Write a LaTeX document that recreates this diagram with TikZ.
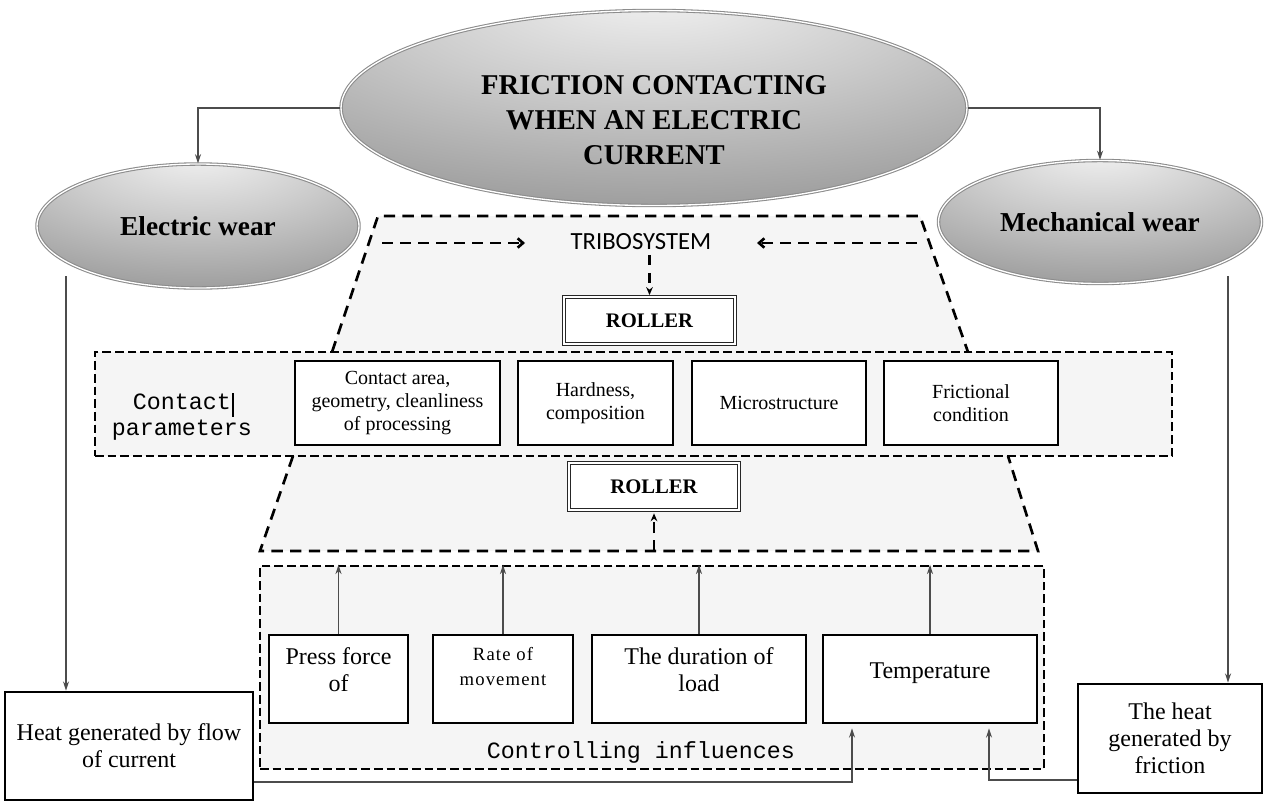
\documentclass[tikz,border=0pt]{standalone}
\usepackage{fontspec}
\setmainfont{Liberation Serif}
\setmonofont{Liberation Mono}
\newfontfamily\tribofont{Carlito}
\usetikzlibrary{arrows.meta,shapes.geometric}
\newcommand\pxu{0.75pt}
\newcommand\setfs[2]{\fontsize{#1}{#2}\selectfont}
\pgfdeclareradialshading{ellshade}{\pgfpoint{0bp}{30bp}}{color(0bp)=(black!5); color(20bp)=(black!20); color(45bp)=(black!40); color(70bp)=(black!52); color(100bp)=(black!56)}
\begin{document}
\begin{tikzpicture}[x=0.75pt,y=-0.75pt,
  ell/.style={ellipse, shade, shading=ellshade, draw=black!45, double=white, double distance=1pt, line width=0.8pt, inner sep=0pt},
  wtxt/.style={font=\bfseries\setfs{20.5}{24}},
  trapfill/.style={fill=black!4},
  tline/.style={line width=2pt, dash pattern=on 8.5pt off 5.5pt},
  band/.style={draw, line width=2pt, dash pattern=on 6.5pt off 3pt, fill=black!4, inner sep=0pt},
  box/.style={draw, line width=2pt, fill=white, inner sep=0pt, align=center},
  small/.style={font=\setfs{15}{17.25}},
  big/.style={font=\setfs{18}{20.25}},
  mono/.style={font=\ttfamily\setfs{17.5}{19.5}, align=center},
  rollerbox/.style={draw=black!85, double=white, double distance=1.5pt, line width=0.9pt, fill=white, inner sep=0pt, font=\bfseries\setfs{15.5}{18}},
  conn/.style={draw=black!70, line width=1.1pt, -{Stealth[length=7pt,width=4.5pt]}},
  darr/.style={line width=2pt, dash pattern=on 8pt off 5.5pt, -{Straight Barb[length=4pt,width=7pt]}},
  darrs/.style={line width=2pt, dash pattern=on 8pt off 5.5pt, -{Stealth[length=6pt,width=5pt]}},
]
\useasboundingbox (0,0) rectangle (1266,803);

% upper trapezoid (tribosystem)
\fill[trapfill] (332,352) -- (378,216) -- (920,216) -- (968,352) -- cycle;
\draw[tline] (332,352) -- (378,216) -- (920,216) -- (968,352);

% lower trapezoid
\fill[trapfill] (293,456) -- (260,551) -- (1038,551) -- (1008,456) -- cycle;
\draw[tline] (293,456) -- (260,551) -- (1038,551) -- (1008,456);

% contact parameters band
\node[band, minimum width=1077*\pxu, minimum height=104*\pxu] (band) at (633.5,404) {};
\node[mono] (cp) at (182,417) {Contact\\parameters};
\draw[line width=2pt] (233,393) -- (233,417);

\node[box, small, minimum width=205*\pxu, minimum height=84*\pxu] (ca) at (397.5,403) {Contact area,\\geometry, cleanliness\\of processing};
\node[box, small, minimum width=155*\pxu, minimum height=84*\pxu] (hc) at (595.5,403) {Hardness,\\composition};
\node[box, small, minimum width=174*\pxu, minimum height=84*\pxu] (ms) at (779,403) {Microstructure};
\node[box, small, minimum width=174*\pxu, minimum height=84*\pxu] (fc) at (971,403) {Frictional\\condition};

% tribosystem text and rollers
\node[font=\tribofont\setfs{18.5}{22}] (tri) at (641,242) {TRIBOSYSTEM};
\node[rollerbox, minimum width=171*\pxu, minimum height=47*\pxu] (r1) at (649.5,320.5) {ROLLER};
\node[rollerbox, minimum width=170*\pxu, minimum height=47*\pxu] (r2) at (654,486.5) {ROLLER};

\coordinate (la1) at (382,243);
\coordinate (la2) at (525,243);
\coordinate (ra1) at (917,243);
\coordinate (ra2) at (757,243);
\coordinate (lt) at (654,551);
\draw[darr] (la1) -- (la2);
\draw[darr] (ra1) -- (ra2);
\draw[darrs, shorten >=1pt] (tri.south -| r1.north) -- (r1.north);
\draw[darrs, shorten >=2pt] (lt) -- (r2.south);

% controlling influences
\node[band, minimum width=784*\pxu, minimum height=203*\pxu] (ctrl) at (652,667.5) {};
\node[mono] (ci) at (641,752) {Controlling influences};

\node[box, minimum width=139*\pxu, minimum height=88*\pxu] (pf) at (338.5,679) {};
\node[box, minimum width=140*\pxu, minimum height=88*\pxu] (rm) at (503,679) {};
\node[box, minimum width=214*\pxu, minimum height=88*\pxu] (dl) at (699,679) {};
\node[box, minimum width=214*\pxu, minimum height=88*\pxu] (tp) at (930,679) {};
\node[big, align=center] (pft) at (338.5,670) {Press force\\of};
\node[align=center, font=\addfontfeature{LetterSpace=6}\setfs{14}{18.75}] (rmt) at (503,667) {Rate of\\movement};
\node[big, align=center] (dlt) at (699,670) {The duration of\\load};
\node[big, align=center] (tpt) at (930,673) {Temperature};

\foreach \b in {pf,rm,dl,tp}
  \draw[conn] (\b.north) -- (\b.north |- ctrl.north);

% ellipses
\node[ell, minimum width=626*\pxu, minimum height=195*\pxu] (top) at (654,108) {};
\node[font=\bfseries\setfs{21.5}{26.25}, align=center] (toptxt) at (654,120) {FRICTION CONTACTING\\WHEN AN ELECTRIC\\CURRENT};
\node[ell, wtxt, minimum width=322*\pxu, minimum height=124*\pxu] (ew) at (198,226) {Electric wear};
\node[ell, wtxt, minimum width=323*\pxu, minimum height=123*\pxu] (mw) at (1100,222) {Mechanical wear};

% heat boxes
\node[box, big, minimum width=248*\pxu, minimum height=108*\pxu] (hl) at (129,746) {Heat generated by flow\\of current};
\node[box, big, minimum width=184*\pxu, minimum height=109*\pxu] (hr) at (1170,738.5) {The heat\\generated by\\friction};

% connectors
\draw[conn] (top.west) -| (ew.north);
\draw[conn] (top.east) -| (mw.north);
\coordinate (ewout) at (66,276);
\coordinate (mwout) at (1228,276);
\draw[conn] (ewout) -- (ewout |- hl.north);
\draw[conn] (mwout) -- (mwout |- hr.north);
\draw[conn] (hl.east |- 0,782) -| ([xshift=-58.5pt,yshift=-3pt]tp.south);
\draw[conn] (hr.west |- 0,780) -| ([xshift=44.25pt,yshift=-3pt]tp.south);
\end{tikzpicture}
\end{document}
